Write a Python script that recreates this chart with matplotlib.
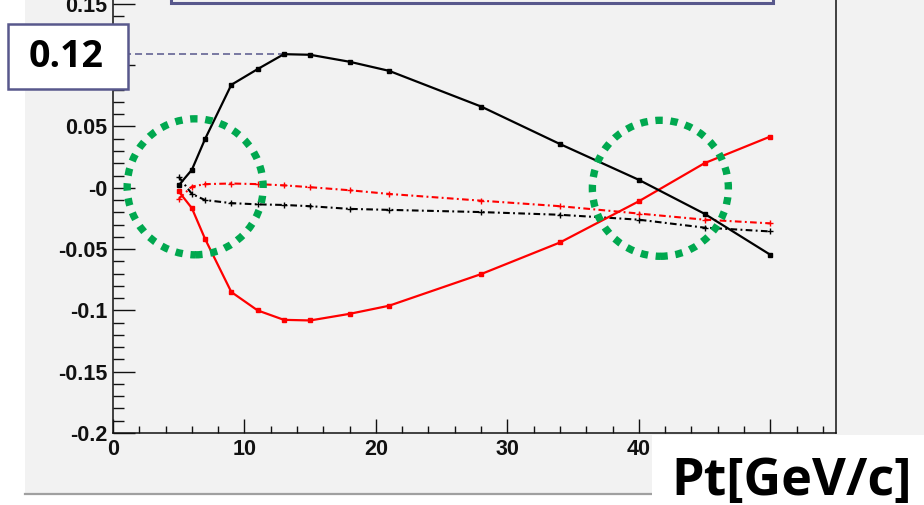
import matplotlib
matplotlib.use("Agg")
import matplotlib.pyplot as plt
from matplotlib.patches import Rectangle, Ellipse
from matplotlib.lines import Line2D
from matplotlib.ticker import FixedLocator, FixedFormatter, MultipleLocator

# ---- data -------------------------------------------------------------
pt_gev = [5, 6, 7, 9, 11, 13, 15, 18, 21, 28, 34, 40, 45, 50]
black_solid = [0.002, 0.0147, 0.0397, 0.084, 0.0968, 0.109, 0.1085, 0.1028,
               0.0954, 0.0663, 0.0357, 0.0065, -0.0212, -0.0546]
red_solid = [-0.003, -0.0166, -0.0416, -0.085, -0.100, -0.1077, -0.1082,
             -0.1028, -0.0962, -0.0704, -0.0446, -0.011, 0.0201, 0.0418]
black_dashdot = [0.009, -0.005, -0.010, -0.0125, -0.0135, -0.014, -0.015,
                 -0.0172, -0.018, -0.0198, -0.022, -0.026, -0.0325, -0.0356]
red_dashdot = [-0.009, 0.001, 0.003, 0.0035, 0.003, 0.002, 0.0005, -0.002,
               -0.005, -0.0105, -0.015, -0.021, -0.026, -0.029]

# major ticks; the 0.1 and 50 labels sit under the overlay boxes
x_tick_values = [0, 10, 20, 30, 40, 50]
x_tick_labels = ["0", "10", "20", "30", "40", ""]
y_tick_values = [-0.2, -0.15, -0.1, -0.05, 0.0, 0.05, 0.1, 0.15]
y_tick_labels = ["-0.2", "-0.15", "-0.1", "-0.05", "-0", "0.05", "", "0.15"]
peak_label = "0.12"
x_title = "Pt[GeV/c]"

# ---- layout helpers ---------------------------------------------------
W, H = 924, 505


def fx(px):
    return px / W


def fy(py):
    return 1 - py / H


CANVAS = "#f2f2f2"
FRAME_BLUE = "#58588c"
GREEN = "#00a84f"

fig = plt.figure(figsize=(W / 100, H / 100), dpi=100)
fig.patch.set_facecolor("white")

# canvas panel behind the frame
fig.patches.append(Rectangle((fx(25), fy(493)), fx(W - 25), 493 / H,
                             transform=fig.transFigure, facecolor=CANVAS,
                             edgecolor="none", zorder=-5))
fig.lines.append(Line2D([fx(25), fx(652)], [fy(494), fy(494)],
                        transform=fig.transFigure, color="#a0a0a0", lw=1.6,
                        zorder=-4))

# frame: x 0..55 over px 113..836, y -0.2..0.2 with bottom at px 433
left_px, right_px, bottom_px = 113, 836, 433
px_per_unit_y = 1226
top_px = bottom_px - 0.4 * px_per_unit_y
ax = fig.add_axes([fx(left_px), fy(bottom_px), (right_px - left_px) / W,
                   (bottom_px - top_px) / H])
ax.set_facecolor(CANVAS)
ax.set_xlim(0, 55)
ax.set_ylim(-0.2, 0.2)
for s in ax.spines.values():
    s.set_color("#111111")
    s.set_linewidth(1.1)

ax.xaxis.set_major_locator(FixedLocator(x_tick_values))
ax.xaxis.set_major_formatter(FixedFormatter(x_tick_labels))
ax.xaxis.set_minor_locator(MultipleLocator(2))
ax.yaxis.set_major_locator(FixedLocator(y_tick_values))
ax.yaxis.set_major_formatter(FixedFormatter(y_tick_labels))
ax.yaxis.set_minor_locator(MultipleLocator(0.01))

ax.tick_params(axis="y", which="major", direction="in", length=15.8, width=1.0,
               pad=4, color="#111111")
ax.tick_params(axis="y", which="minor", direction="in", length=7.9, width=1.0,
               color="#111111")
ax.tick_params(axis="x", which="major", direction="in", length=10, width=1.0,
               pad=4, color="#111111")
ax.tick_params(axis="x", which="minor", direction="in", length=5, width=1.0,
               color="#111111")
for lab in ax.get_xticklabels() + ax.get_yticklabels():
    lab.set_fontfamily("Liberation Sans")
    lab.set_fontweight("bold")
    lab.set_fontsize(15.5)
    lab.set_color("#111111")

# ---- curves -----------------------------------------------------------
dashdot = (0, (3.2, 1.6, 0.9, 1.6))
ax.plot(pt_gev, red_dashdot, color="red", lw=1.5, ls=dashdot,
        marker="+", ms=4, mew=1.0, zorder=3)
ax.plot(pt_gev, black_dashdot, color="black", lw=1.5, ls=dashdot,
        marker="+", ms=4, mew=1.0, zorder=3)
ax.plot(pt_gev, red_solid, color="red", lw=1.6, marker="s", ms=3.2, zorder=4)
ax.plot(pt_gev, black_solid, color="black", lw=1.6, marker="s", ms=3.2, zorder=4)

# dashed guide at the peak of the black curve
peak_i = max(range(len(black_solid)), key=lambda i: black_solid[i])
ax.plot([0, pt_gev[peak_i]], [black_solid[peak_i]] * 2, color=FRAME_BLUE,
        lw=1.1, ls=(0, (4.6, 2.6)), zorder=2)

# highlighted regions
ry = 68 / px_per_unit_y
rx = 68 / ((right_px - left_px) / 55)
for cx, cy in [(6.25, 0.0008), (41.64, -0.0004)]:
    ax.add_patch(Ellipse((cx, cy), 2 * rx, 2 * ry, facecolor="none",
                         edgecolor=GREEN, lw=5.3, ls=(0, (1, 1.05)),
                         capstyle="butt", zorder=6))

# ---- overlays ---------------------------------------------------------
# top legend box (edge only)
fig.patches.append(Rectangle((fx(171), fy(3)), fx(773 - 171), 20 / H,
                             transform=fig.transFigure, facecolor=CANVAS,
                             edgecolor=FRAME_BLUE, lw=2.2, zorder=5))

# value callout
fig.patches.append(Rectangle((fx(8), fy(89)), fx(120), 65 / H,
                             transform=fig.transFigure, facecolor="white",
                             edgecolor=FRAME_BLUE, lw=1.8, zorder=8))
fig.text(fx(66.5), fy(57), peak_label, ha="center", va="center",
         fontfamily="Open Sans", fontweight="bold", fontsize=27,
         color="black", zorder=9)

# axis title box
fig.patches.append(Rectangle((fx(652), 0), fx(W - 652), (505 - 435) / H,
                             transform=fig.transFigure, facecolor="white",
                             edgecolor="none", zorder=8))
fig.text(fx(671), fy(495), x_title, ha="left", va="baseline",
         fontfamily="Open Sans", fontweight="bold", fontsize=37.5,
         color="black", zorder=9)

fig.savefig("out.png", dpi=100)
